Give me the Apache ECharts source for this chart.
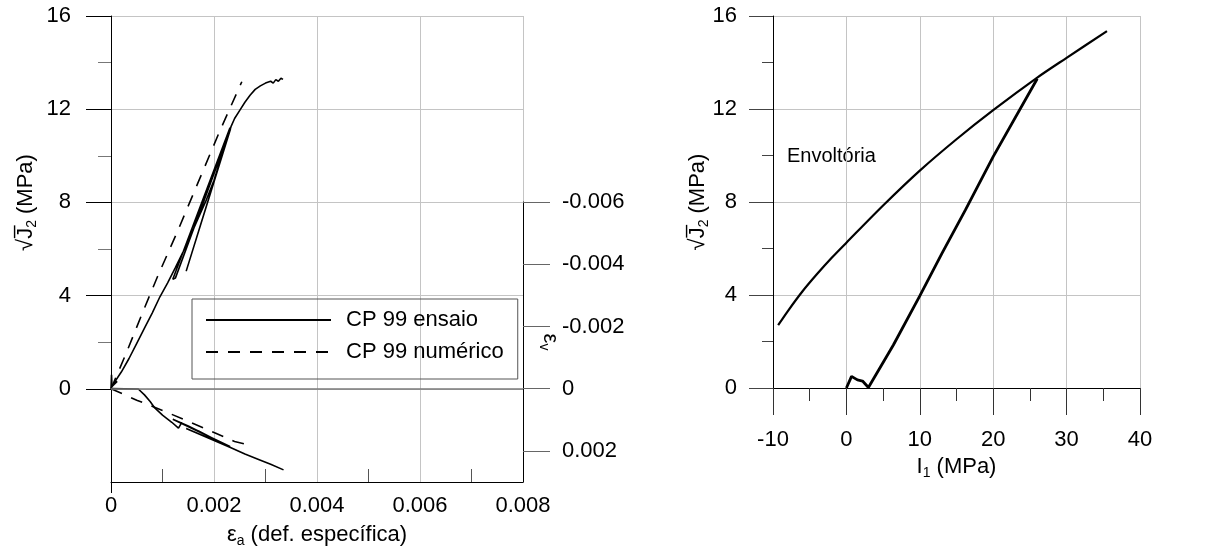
<!DOCTYPE html>
<html>
<head>
<meta charset="utf-8">
<script src="https://cdn.jsdelivr.net/npm/echarts@6.0.0/dist/echarts.min.js"></script>
<style>
  html, body { margin: 0; padding: 0; background: #fff; }
  #chart { width: 1226px; height: 549px; }
</style>
</head>
<body>
<div id="chart"></div>
<script>
// left chart: sqrt(J2) and volumetric strain vs axial strain
var j2Ticks = [0, 4, 8, 12, 16]
var j2MinorTicks = [2, 6, 10, 14]
var strainMinorTicks = [0.001, 0.003, 0.005, 0.007]
var evTicks = [-0.006, -0.004, -0.002, 0, 0.002]

var ensaioJ2 = [
  [0, 0], [0.00001, 0.6], [0.00002, 0.1], [0.00012, 0.32], [0.00005, 0.22], [0.0002, 0.72],
  [0.00035, 1.3], [0.0005, 1.95], [0.00065, 2.6], [0.0008, 3.25], [0.00095, 3.95], [0.0011, 4.55],
  [0.00125, 5.2], [0.0014, 5.88], [0.00155, 6.6], [0.0017, 7.35], [0.00185, 8.1], [0.002, 8.95],
  [0.00215, 10.0], [0.00231, 11.2], [0.0012, 4.7], [0.00125, 4.75], [0.00232, 11.15],
  [0.00146, 5.05], [0.00233, 11.25], [0.0024, 11.6], [0.0025, 11.95], [0.0026, 12.3],
  [0.0027, 12.6], [0.0028, 12.85], [0.0029, 13.0], [0.003, 13.12], [0.0031, 13.2],
  [0.00315, 13.12], [0.0032, 13.27], [0.00325, 13.2], [0.0033, 13.33], [0.00334, 13.28]
]
var numericoJ2 = [
  [0, 0], [0.0003, 1.55], [0.0006, 3.2], [0.0009, 4.8], [0.0013, 6.8], [0.0017, 8.9],
  [0.0021, 11.0], [0.00254, 13.18]
]
var ensaioEv = [
  [0, 0], [0.00053, 0.00001], [0.00065, 0.0002], [0.00076, 0.00041], [0.00085, 0.00062],
  [0.001, 0.00085], [0.00118, 0.00108], [0.00131, 0.00127], [0.00134, 0.00132], [0.00137, 0.0011],
  [0.0015, 0.00122], [0.0017, 0.00136], [0.002, 0.00162], [0.00231, 0.00186], [0.0012, 0.00098],
  [0.0015, 0.0012], [0.00232, 0.00188], [0.00146, 0.00128], [0.00233, 0.0019], [0.0026, 0.0021],
  [0.00289, 0.00229], [0.0031, 0.00243], [0.00335, 0.00261]
]
var numericoEv = [
  [0, 0], [0.0005, 0.00037], [0.001, 0.0007], [0.0015, 0.00105], [0.002, 0.00141],
  [0.0022, 0.00155], [0.0024, 0.0017], [0.0026, 0.00178]
]

// right chart: stress path in I1 x sqrt(J2)
var i1MinorTicks = [-5, 5, 15, 25, 35]
var envoltoria = [
  [-9.3, 2.7], [-8, 3.3], [-6, 4.15], [-4, 4.9], [-2, 5.6], [0, 6.25], [5, 7.85], [10, 9.35],
  [15, 10.7], [20, 11.95], [26, 13.35], [30, 14.2], [35.5, 15.35]
]
var trajetoria = [
  [0, 0], [0.7, 0.5], [1.5, 0.35], [2.2, 0.3], [3.0, 0.02], [6.4, 1.85], [10, 3.96],
  [13, 5.78], [16.2, 7.65], [20, 9.95], [26, 13.3]
]

var font = 'Liberation Sans, Arial, sans-serif'
var gridColor = '#c4c4c4'
var subStyle = { fontSize: 14, fontFamily: font, color: '#000', padding: [12, 0, 0, 0] }
var nameStyle = { fontSize: 22, fontFamily: font, color: '#000', rich: { s: subStyle } }
var labelStyle = { fontSize: 22, fontFamily: font, color: '#000' }

function fmtStrain(v) {
  if (Math.abs(v) < 1e-9) return '0'
  return v.toFixed(3)
}

// extra axis that only draws tick marks at the given values
function tickAxis(gridIndex, min, max, pos, values, len, color, inside) {
  return {
    gridIndex: gridIndex, type: 'value', min: min, max: max, position: pos,
    axisLine: { show: false, onZero: false },
    axisTick: { customValues: values, inside: !!inside, length: len, lineStyle: { color: color } },
    axisLabel: { show: false }, splitLine: { show: false }
  }
}

// extra axis that only draws the grid lines
function gridAxis(gridIndex, min, max, interval, pos) {
  return {
    gridIndex: gridIndex, type: 'value', min: min, max: max, interval: interval, position: pos,
    axisLine: { show: false, onZero: false }, axisTick: { show: false }, axisLabel: { show: false },
    splitLine: { show: true, lineStyle: { color: gridColor, width: 1, type: 'solid' } }
  }
}

function box(left, top, width, height) {
  // keep the grid where it is, even when a name sits near the edge
  return { left: left, top: top, width: width, height: height, outerBoundsMode: 'none', containLabel: false }
}

var myChart = echarts.init(document.getElementById('chart'))

var option = {
  animation: false,
  backgroundColor: '#fff',
  grid: [
    box(111, 16, 412, 466),
    box(111, 202, 412, 280),
    box(111, 16, 412, 373),
    box(773, 16, 367, 372),
    box(111, 16, 412, 466)
  ],
  legend: {
    data: [
      { name: 'CP 99 ensaio' },
      { name: 'CP 99 numérico', lineStyle: { type: [12, 10] } }
    ],
    orient: 'vertical',
    left: 192,
    top: 299,
    itemWidth: 125,
    itemHeight: 14,
    itemGap: 10,
    padding: [10, 14, 16, 13],
    borderColor: '#555',
    borderWidth: 1,
    selectedMode: false,
    itemStyle: { opacity: 0 },
    textStyle: { fontSize: 22, fontFamily: font, color: '#000', padding: [0, 0, 0, 10] }
  },
  xAxis: [
    {
      gridIndex: 0, type: 'value', min: 0, max: 0.008, interval: 0.002, position: 'bottom',
      axisLine: { onZero: false, lineStyle: { color: '#000', width: 1 } },
      axisTick: { show: false },
      axisLabel: Object.assign({ margin: 13, formatter: fmtStrain }, labelStyle),
      splitLine: { show: false },
      name: 'ε{s|a} (def. específica)', nameLocation: 'middle', nameGap: 40,
      nameMoveOverlap: false, nameTextStyle: nameStyle
    },
    tickAxis(0, 0, 0.008, 'bottom', strainMinorTicks, 13, '#555', true),
    tickAxis(0, 0, 0.008, 'bottom', [0], 11, '#000'),
    { gridIndex: 1, type: 'value', min: 0, max: 0.008, show: false },
    { gridIndex: 2, type: 'value', min: 0, max: 0.008, show: false },
    {
      gridIndex: 3, type: 'value', min: -10, max: 40, interval: 10, position: 'bottom',
      axisLine: { onZero: false, lineStyle: { color: '#000', width: 1 } },
      axisTick: { length: 27, lineStyle: { color: '#333' } },
      axisLabel: Object.assign({ margin: 41 }, labelStyle),
      splitLine: { lineStyle: { color: gridColor } },
      name: 'I{s|1} (MPa)', nameLocation: 'middle', nameGap: 66,
      nameMoveOverlap: false, nameTextStyle: nameStyle
    },
    tickAxis(3, -10, 40, 'bottom', i1MinorTicks, 13, '#333'),
    gridAxis(4, 0, 0.008, 0.002, 'bottom')
  ],
  yAxis: [
    {
      gridIndex: 0, type: 'value', min: -4, max: 16, interval: 4, position: 'left',
      axisLine: { onZero: false, lineStyle: { color: '#000', width: 1 } },
      axisTick: { show: false },
      axisLabel: Object.assign({
        margin: 40,
        formatter: function (v) { return v < 0 ? '' : String(v) }
      }, labelStyle),
      splitLine: { show: false }
    },
    tickAxis(0, -4, 16, 'left', j2Ticks, 25, '#000'),
    tickAxis(0, -4, 16, 'left', j2MinorTicks, 13, '#777'),
    {
      gridIndex: 1, type: 'value', min: -0.006, max: 0.003, inverse: true, position: 'right',
      axisLine: { onZero: false, lineStyle: { color: '#000', width: 1 } },
      axisTick: { customValues: evTicks, length: 27, lineStyle: { color: '#666' } },
      axisLabel: Object.assign({ customValues: evTicks, margin: 39, formatter: fmtStrain }, labelStyle),
      splitLine: { show: false },
      name: 'ε{s|v}', nameLocation: 'middle', nameGap: 14, nameRotate: -90,
      nameMoveOverlap: false, nameTextStyle: nameStyle
    },
    {
      gridIndex: 2, type: 'value', min: 0, max: 16, position: 'left',
      axisLine: { show: false, onZero: false }, axisTick: { show: false },
      axisLabel: { show: false }, splitLine: { show: false },
      name: '√J̅{s|2} (MPa)', nameLocation: 'middle', nameRotate: 90, nameGap: 72,
      nameMoveOverlap: false, nameTextStyle: nameStyle
    },
    {
      gridIndex: 3, type: 'value', min: 0, max: 16, interval: 4, position: 'left',
      axisLine: { onZero: false, lineStyle: { color: '#000', width: 1 } },
      axisTick: { length: 24, lineStyle: { color: '#444' } },
      minorTick: { show: true, splitNumber: 2, length: 11, lineStyle: { color: '#444' } },
      axisLabel: Object.assign({ margin: 36 }, labelStyle),
      splitLine: { lineStyle: { color: gridColor } },
      name: '√J̅{s|2} (MPa)', nameLocation: 'middle', nameRotate: 90, nameGap: 62,
      nameMoveOverlap: false, nameTextStyle: nameStyle
    },
    gridAxis(4, -4, 16, 4, 'left')
  ],
  graphic: [
    {
      type: 'text', left: 787, top: 146,
      style: { text: 'Envoltória', fontSize: 20, fontFamily: font, fill: '#000' }
    }
  ],
  series: [
    {
      name: 'CP 99 ensaio', type: 'line', xAxisIndex: 0, yAxisIndex: 0, data: ensaioJ2,
      symbol: 'none', lineStyle: { color: '#000', width: 1.6 }, itemStyle: { color: '#000' },
      markLine: {
        silent: true, symbol: ['none', 'none'], label: { show: false },
        lineStyle: { color: '#7a7a7a', width: 1.5, type: 'solid' },
        data: [{ yAxis: 0 }]
      }
    },
    {
      name: 'CP 99 numérico', type: 'line', xAxisIndex: 0, yAxisIndex: 0, data: numericoJ2,
      symbol: 'none', lineStyle: { color: '#000', width: 1.6, type: [12, 10] }, itemStyle: { color: '#000' }
    },
    {
      name: 'CP 99 ensaio', type: 'line', xAxisIndex: 3, yAxisIndex: 3, data: ensaioEv,
      symbol: 'none', lineStyle: { color: '#000', width: 1.6 }, itemStyle: { color: '#000' }
    },
    {
      name: 'CP 99 numérico', type: 'line', xAxisIndex: 3, yAxisIndex: 3, data: numericoEv,
      symbol: 'none', lineStyle: { color: '#000', width: 1.6, type: [12, 10] }, itemStyle: { color: '#000' }
    },
    {
      name: 'Envoltória', type: 'line', xAxisIndex: 5, yAxisIndex: 5, data: envoltoria,
      smooth: 0.3, symbol: 'none', lineStyle: { color: '#000', width: 2.2 }, itemStyle: { color: '#000' }
    },
    {
      name: 'Trajetória', type: 'line', xAxisIndex: 5, yAxisIndex: 5, data: trajetoria,
      symbol: 'none', lineStyle: { color: '#000', width: 2.8 }, itemStyle: { color: '#000' }
    }
  ]
}

myChart.setOption(option)
</script>
</body>
</html>
